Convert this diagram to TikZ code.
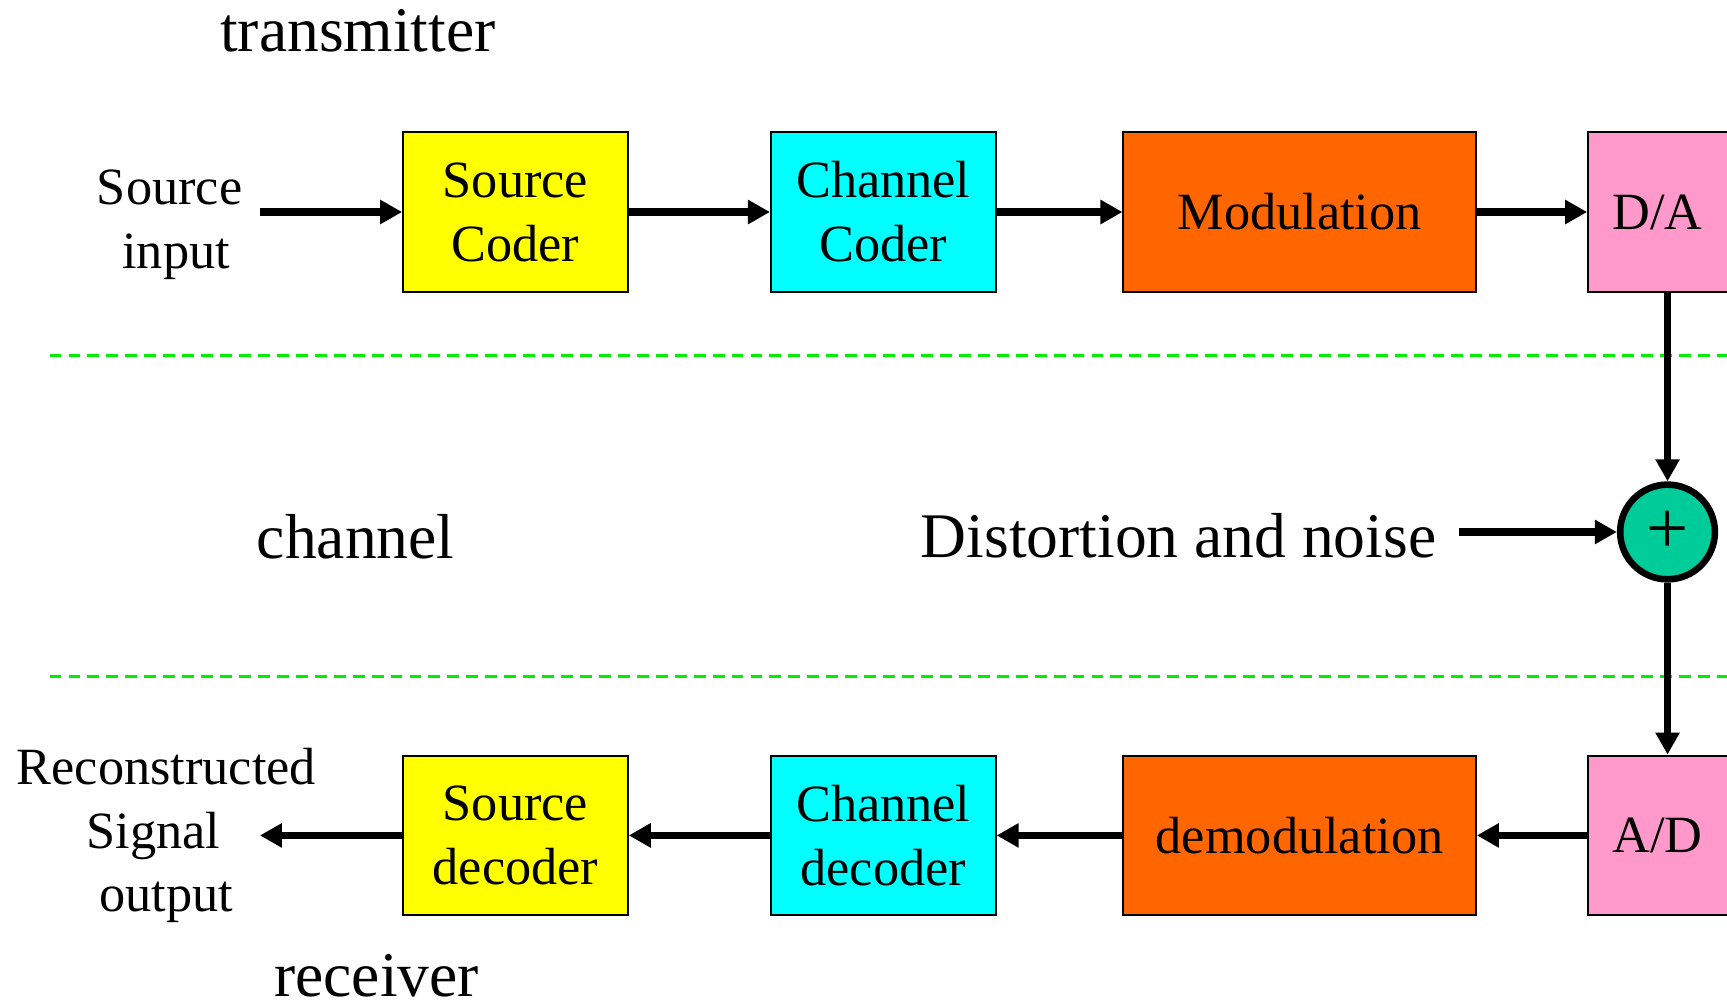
\documentclass[tikz,border=0pt]{standalone}
\usepackage{fontspec}
\setmainfont{Liberation Serif}
\usetikzlibrary{arrows.meta}
\definecolor{cyellow}{HTML}{FFFF00}
\definecolor{ccyan}{HTML}{00FFFF}
\definecolor{corange}{HTML}{FF6600}
\definecolor{cpink}{HTML}{FF99CC}
\definecolor{cteal}{HTML}{00CC99}
\definecolor{cgreen}{HTML}{00EE00}
\begin{document}
\begin{tikzpicture}[x=0.5pt,y=-0.5pt,
  box/.style={draw=black,line width=0.9pt,minimum width=102pt,minimum height=72.5pt,inner sep=0pt,align=center,font=\fontsize{23.75}{29}\selectfont},
  arr/.style={line width=3.3pt,-{Triangle[length=10pt,width=10.5pt]}},
  lbl/.style={font=\fontsize{28.85}{34}\selectfont,inner sep=0pt},
  sm/.style={font=\fontsize{23.75}{29}\selectfont,align=center,inner sep=0pt},
  sep/.style={draw=cgreen,line width=1.35pt,dash pattern=on 5.4pt off 3.2pt}
]
\clip (0,0) rectangle (1568,915);
% separators
\draw[sep] (45,323) -- (1568,323);
\draw[sep] (45,614) -- (1568,614);
% section labels
\node[lbl,anchor=base] (tx) at (325,47) {transmitter};
\node[lbl,anchor=base] (ch) at (323,507) {channel};
\node[lbl,anchor=base] (rx) at (342,905) {receiver};
% transmitter row
\node[box,fill=cyellow] (sc) at (468,192.5) {Source\\Coder};
\node[box,fill=ccyan] (cc) at (802,192.5) {Channel\\Coder};
\node[box,fill=corange,minimum width=160pt] (mod) at (1180,192.5) {Modulation};
\node[box,fill=cpink,anchor=west,text width=80pt,inner xsep=11pt,align=left] (da) at (1441,192.5) {D/A};
% receiver row
\node[box,fill=cyellow] (sd) at (468,758.5) {Source\\decoder};
\node[box,fill=ccyan] (cd) at (802,758.5) {Channel\\decoder};
\node[box,fill=corange,minimum width=160pt] (dem) at (1180,758.5) {demodulation};
\node[box,fill=cpink,anchor=west,text width=80pt,inner xsep=11pt,align=left] (ad) at (1441,758.5) {A/D};
% channel adder
\node[circle,draw=black,line width=3pt,fill=cteal,minimum size=43pt,inner sep=0pt,font=\fontsize{34}{38}\selectfont] (sum) at (1514,483) {\raisebox{-2pt}{+}};
\node[lbl,anchor=base,inner xsep=10pt] (dn) at (1070,506) {Distortion and noise};
% side labels
\node[sm] (si) at (154,204) {Source\\\mbox{\hspace{6pt}input}};
\node[sm] (ro) at (151,758.5) {Reconstructed\\\mbox{Signal\hspace{11.5pt}}\\output};
\coordinate (in) at (236,192.5);
\coordinate (out) at (236,758.5);
% connectors
\draw[arr] (in) -- (sc.west);
\draw[arr] (sc.east) -- (cc.west);
\draw[arr] (cc.east) -- (mod.west);
\draw[arr] (mod.east) -- (da.west);
\draw[arr] (sum |- da.south) -- (sum.north);
\draw[arr] (dn.east |- sum.west) -- (sum.west);
\draw[arr] (sum.south) -- (sum |- ad.north);
\draw[arr] (ad.west) -- (dem.east);
\draw[arr] (dem.west) -- (cd.east);
\draw[arr] (cd.west) -- (sd.east);
\draw[arr] (sd.west) -- (out);
\end{tikzpicture}
\end{document}
